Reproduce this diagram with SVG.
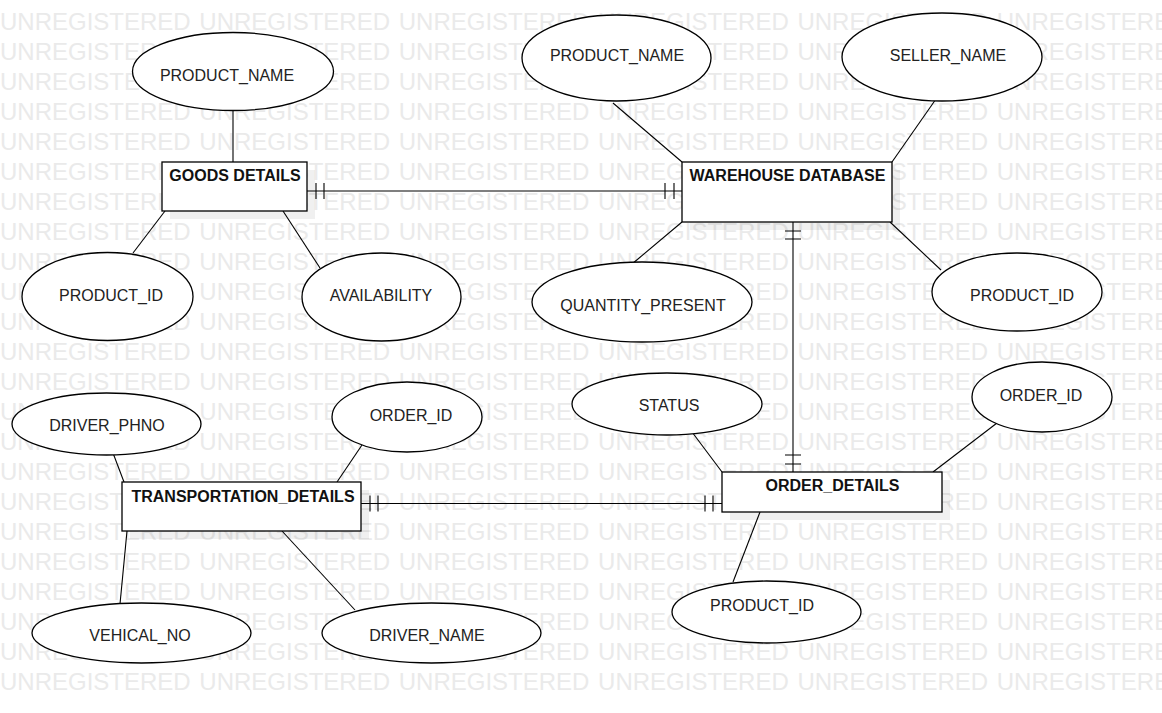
<svg xmlns="http://www.w3.org/2000/svg" width="1162" height="713" viewBox="0 0 1162 713">
  <style>
    .wm { font-family: "Liberation Sans", Arial, sans-serif; font-size: 24px; fill: #eaeaea; word-spacing: 2px; }
    .ent rect.box { fill: #ffffff; stroke: #000000; stroke-width: 1.3; }
    .ent rect.shadow { fill: #000000; opacity: 0.06; }
    .ent text { font-family: "Liberation Sans", Arial, sans-serif; font-size: 16px; font-weight: bold; fill: #111111; text-anchor: middle; }
    .attr ellipse { fill: #ffffff; stroke: #000000; stroke-width: 1.3; }
    .attr text { font-family: "Liberation Sans", Arial, sans-serif; font-size: 16px; fill: #222222; text-anchor: middle; }
    #connectors line, #connectors path { stroke: #000000; stroke-width: 1.1; fill: none; }
  </style>

  <rect x="0" y="0" width="1162" height="713" fill="#ffffff"/>

  <!-- watermark rows -->
  <g id="watermark">
    <text class="wm" x="0" y="30">UNREGISTERED UNREGISTERED UNREGISTERED UNREGISTERED UNREGISTERED UNREGISTERED</text>
    <text class="wm" x="0" y="60">UNREGISTERED UNREGISTERED UNREGISTERED UNREGISTERED UNREGISTERED UNREGISTERED</text>
    <text class="wm" x="0" y="90">UNREGISTERED UNREGISTERED UNREGISTERED UNREGISTERED UNREGISTERED UNREGISTERED</text>
    <text class="wm" x="0" y="120">UNREGISTERED UNREGISTERED UNREGISTERED UNREGISTERED UNREGISTERED UNREGISTERED</text>
    <text class="wm" x="0" y="150">UNREGISTERED UNREGISTERED UNREGISTERED UNREGISTERED UNREGISTERED UNREGISTERED</text>
    <text class="wm" x="0" y="180">UNREGISTERED UNREGISTERED UNREGISTERED UNREGISTERED UNREGISTERED UNREGISTERED</text>
    <text class="wm" x="0" y="210">UNREGISTERED UNREGISTERED UNREGISTERED UNREGISTERED UNREGISTERED UNREGISTERED</text>
    <text class="wm" x="0" y="240">UNREGISTERED UNREGISTERED UNREGISTERED UNREGISTERED UNREGISTERED UNREGISTERED</text>
    <text class="wm" x="0" y="270">UNREGISTERED UNREGISTERED UNREGISTERED UNREGISTERED UNREGISTERED UNREGISTERED</text>
    <text class="wm" x="0" y="300">UNREGISTERED UNREGISTERED UNREGISTERED UNREGISTERED UNREGISTERED UNREGISTERED</text>
    <text class="wm" x="0" y="330">UNREGISTERED UNREGISTERED UNREGISTERED UNREGISTERED UNREGISTERED UNREGISTERED</text>
    <text class="wm" x="0" y="360">UNREGISTERED UNREGISTERED UNREGISTERED UNREGISTERED UNREGISTERED UNREGISTERED</text>
    <text class="wm" x="0" y="390">UNREGISTERED UNREGISTERED UNREGISTERED UNREGISTERED UNREGISTERED UNREGISTERED</text>
    <text class="wm" x="0" y="420">UNREGISTERED UNREGISTERED UNREGISTERED UNREGISTERED UNREGISTERED UNREGISTERED</text>
    <text class="wm" x="0" y="450">UNREGISTERED UNREGISTERED UNREGISTERED UNREGISTERED UNREGISTERED UNREGISTERED</text>
    <text class="wm" x="0" y="480">UNREGISTERED UNREGISTERED UNREGISTERED UNREGISTERED UNREGISTERED UNREGISTERED</text>
    <text class="wm" x="0" y="510">UNREGISTERED UNREGISTERED UNREGISTERED UNREGISTERED UNREGISTERED UNREGISTERED</text>
    <text class="wm" x="0" y="540">UNREGISTERED UNREGISTERED UNREGISTERED UNREGISTERED UNREGISTERED UNREGISTERED</text>
    <text class="wm" x="0" y="570">UNREGISTERED UNREGISTERED UNREGISTERED UNREGISTERED UNREGISTERED UNREGISTERED</text>
    <text class="wm" x="0" y="600">UNREGISTERED UNREGISTERED UNREGISTERED UNREGISTERED UNREGISTERED UNREGISTERED</text>
    <text class="wm" x="0" y="630">UNREGISTERED UNREGISTERED UNREGISTERED UNREGISTERED UNREGISTERED UNREGISTERED</text>
    <text class="wm" x="0" y="660">UNREGISTERED UNREGISTERED UNREGISTERED UNREGISTERED UNREGISTERED UNREGISTERED</text>
    <text class="wm" x="0" y="690">UNREGISTERED UNREGISTERED UNREGISTERED UNREGISTERED UNREGISTERED UNREGISTERED</text>
  </g>

  <!-- connectors: attribute links and one-to-one relationships -->
  <g id="connectors">
    <!-- attribute links -->
    <line x1="233" y1="110" x2="233" y2="162"/>
    <line x1="165" y1="211" x2="133" y2="253"/>
    <line x1="283" y1="211" x2="320" y2="268"/>
    <line x1="613" y1="103" x2="682" y2="162"/>
    <line x1="892" y1="162" x2="936" y2="99"/>
    <line x1="682" y1="222" x2="632" y2="264"/>
    <line x1="890" y1="222" x2="941" y2="270"/>
    <line x1="692" y1="432" x2="722" y2="472"/>
    <line x1="997" y1="423" x2="933" y2="472"/>
    <line x1="760" y1="512" x2="733" y2="582"/>
    <line x1="362" y1="445" x2="337" y2="482"/>
    <line x1="113" y1="453" x2="124" y2="482"/>
    <line x1="127" y1="531" x2="120" y2="604"/>
    <line x1="282" y1="531" x2="355" y2="610"/>

    <!-- GOODS DETAILS to WAREHOUSE DATABASE -->
    <line x1="307" y1="191" x2="682" y2="191"/>
    <path d="M316 183 V199 M324 183 V199 M665 183 V199 M674 183 V199"/>

    <!-- WAREHOUSE DATABASE to ORDER_DETAILS -->
    <line x1="793" y1="222" x2="793" y2="472"/>
    <path d="M785 231 H801 M785 239 H801 M785 455 H801 M785 464 H801"/>

    <!-- TRANSPORTATION_DETAILS to ORDER_DETAILS -->
    <line x1="361" y1="503.5" x2="722" y2="503.5"/>
    <path d="M370 495.5 V511.5 M378 495.5 V511.5 M705 495.5 V511.5 M713 495.5 V511.5"/>
  </g>

  <!-- entities -->
  <g id="goods-details" class="ent">
    <rect class="shadow" x="170" y="170" width="145" height="49"/>
    <rect class="box" x="162" y="162" width="145" height="49"/>
    <text x="235" y="181">GOODS DETAILS</text>
  </g>
  <g id="warehouse-database" class="ent">
    <rect class="shadow" x="690" y="170" width="210" height="60"/>
    <rect class="box" x="682" y="162" width="210" height="60"/>
    <text x="787.5" y="181">WAREHOUSE DATABASE</text>
  </g>
  <g id="transportation-details" class="ent">
    <rect class="shadow" x="130" y="490" width="239" height="49"/>
    <rect class="box" x="122" y="482" width="239" height="49"/>
    <text x="243" y="501.5">TRANSPORTATION_DETAILS</text>
  </g>
  <g id="order-details" class="ent">
    <rect class="shadow" x="730" y="480" width="220" height="40"/>
    <rect class="box" x="722" y="472" width="220" height="40"/>
    <text x="832.5" y="491">ORDER_DETAILS</text>
  </g>

  <!-- attributes -->
  <g id="goods-product-name" class="attr">
    <ellipse cx="233" cy="71.5" rx="100.5" ry="39"/>
    <text x="227" y="81">PRODUCT_NAME</text>
  </g>
  <g id="goods-product-id" class="attr">
    <ellipse cx="107.5" cy="296.5" rx="85.5" ry="44"/>
    <text x="111" y="301">PRODUCT_ID</text>
  </g>
  <g id="goods-availability" class="attr">
    <ellipse cx="381.5" cy="297" rx="79.5" ry="44"/>
    <text x="381" y="301">AVAILABILITY</text>
  </g>
  <g id="warehouse-product-name" class="attr">
    <ellipse cx="616.5" cy="58" rx="94.5" ry="43"/>
    <text x="617" y="61">PRODUCT_NAME</text>
  </g>
  <g id="warehouse-seller-name" class="attr">
    <ellipse cx="942" cy="57" rx="100" ry="44"/>
    <text x="948" y="61">SELLER_NAME</text>
  </g>
  <g id="warehouse-quantity-present" class="attr">
    <ellipse cx="642" cy="302" rx="110" ry="40"/>
    <text x="643" y="311">QUANTITY_PRESENT</text>
  </g>
  <g id="warehouse-product-id" class="attr">
    <ellipse cx="1017" cy="292" rx="85" ry="39"/>
    <text x="1022" y="301">PRODUCT_ID</text>
  </g>
  <g id="order-status" class="attr">
    <ellipse cx="667" cy="404" rx="95" ry="31"/>
    <text x="669" y="411">STATUS</text>
  </g>
  <g id="order-order-id" class="attr">
    <ellipse cx="1042" cy="397" rx="70" ry="35"/>
    <text x="1041" y="401">ORDER_ID</text>
  </g>
  <g id="order-product-id" class="attr">
    <ellipse cx="766.5" cy="612" rx="94.5" ry="31"/>
    <text x="762" y="611">PRODUCT_ID</text>
  </g>
  <g id="transport-driver-phno" class="attr">
    <ellipse cx="106.5" cy="424" rx="94.5" ry="31"/>
    <text x="107" y="431">DRIVER_PHNO</text>
  </g>
  <g id="transport-order-id" class="attr">
    <ellipse cx="407" cy="417" rx="75" ry="35"/>
    <text x="411" y="421">ORDER_ID</text>
  </g>
  <g id="transport-vehical-no" class="attr">
    <ellipse cx="141.5" cy="633" rx="109.5" ry="30"/>
    <text x="140" y="641">VEHICAL_NO</text>
  </g>
  <g id="transport-driver-name" class="attr">
    <ellipse cx="431.5" cy="633" rx="109.5" ry="30"/>
    <text x="427" y="641">DRIVER_NAME</text>
  </g>
</svg>
